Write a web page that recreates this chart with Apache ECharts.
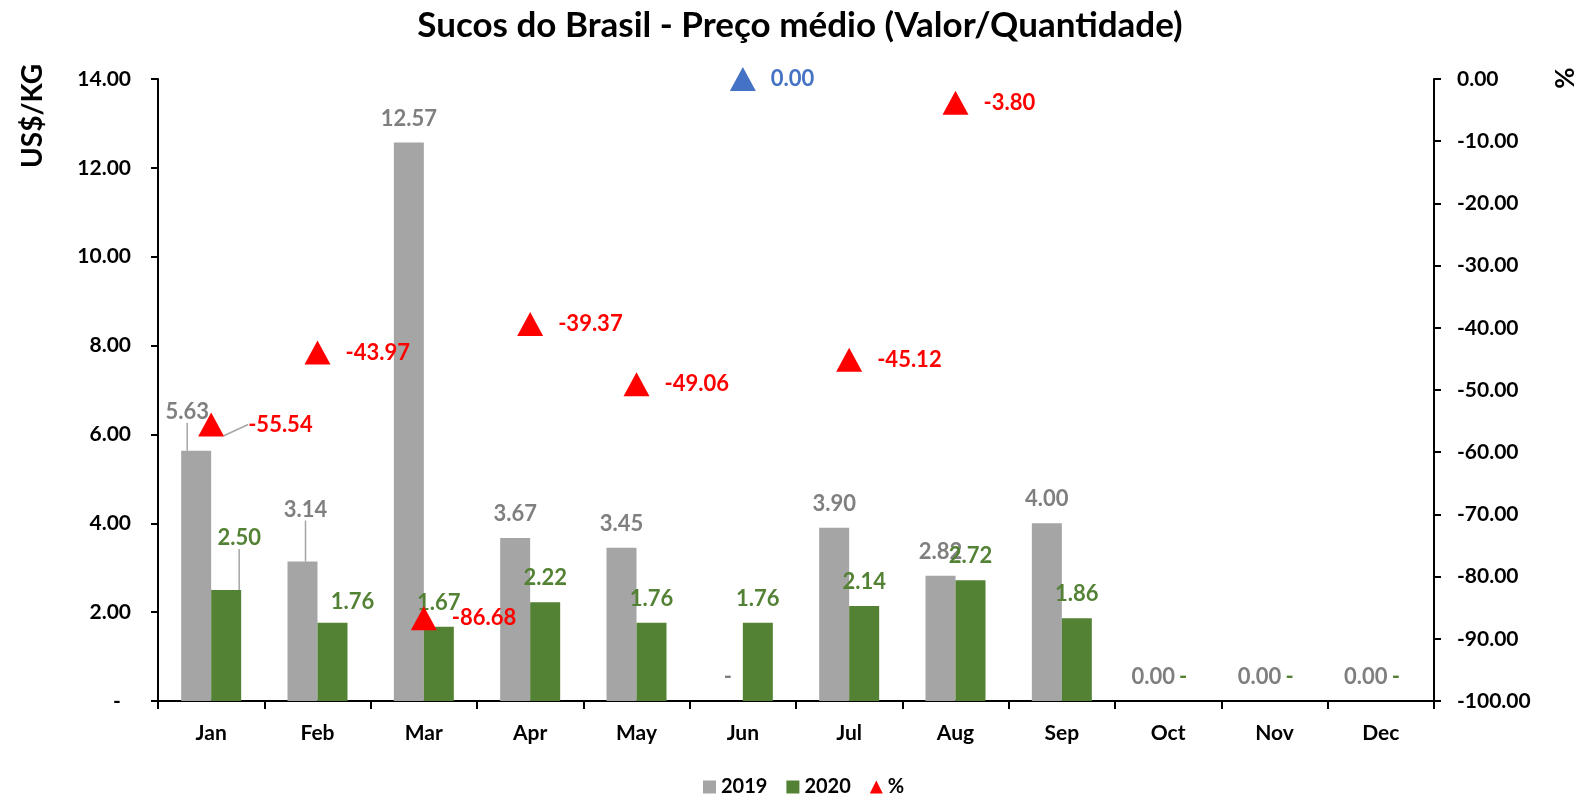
<!DOCTYPE html>
<html>
<head>
<meta charset="utf-8">
<script src="https://cdn.jsdelivr.net/npm/echarts@6/dist/echarts.min.js"></script>
<style>
html,body{margin:0;padding:0;background:#fff;}
#chart{width:1581px;height:796px;}
</style>
</head>
<body>
<div id="chart"></div>
<script>
// ---- data ----
const months = ['Jan','Feb','Mar','Apr','May','Jun','Jul','Aug','Sep','Oct','Nov','Dec'];
const values2019 = [5.63, 3.14, 12.57, 3.67, 3.45, 0, 3.90, 2.82, 4.00, 0, 0, 0];
const labels2019 = ['5.63','3.14','12.57','3.67','3.45','-','3.90','2.82','4.00','0.00','0.00','0.00'];
const values2020 = [2.50, 1.76, 1.67, 2.22, 1.76, 1.76, 2.14, 2.72, 1.86, 0, 0, 0];
const labels2020 = ['2.50','1.76','1.67','2.22','1.76','1.76','2.14','2.72','1.86','-','-','-'];
const valuesPct = [-55.54, -43.97, -86.68, -39.37, -49.06, 0.00, -45.12, -3.80, null, null, null, null];
const leftTicks = [0, 2, 4, 6, 8, 10, 12, 14];
const rightTicks = [-100, -90, -80, -70, -60, -50, -40, -30, -20, -10, 0];

// ---- style / layout config ----
const FONT = 'Lato, "Liberation Sans", sans-serif';
const FS = 21;      // axis labels
const FSD = 22;     // data labels
const C2019 = '#A5A5A5', C2020 = '#548235', CPCT = '#FF0000', CBLUE = '#4472C4';
const shift2019 = {0: [-9, -15], 1: [3, -28]};
const shift2020 = {0: [13, -28], 1: [20, 3]};
const shiftPct = {0: [9, 0]};
const leader2019 = {0: true, 1: true};
const leader2020 = {0: true};
const leaderPct = {0: true};
const pctColorOverride = {5: CBLUE};

function shiftFn(map) {
  return function (p) {
    const s = map[p.dataIndex];
    if (s) return {dx: s[0], dy: s[1]};
    return {};
  };
}

const leaderStyle = {color: '#A5A5A5', width: 1.5};

const chart = echarts.init(document.getElementById('chart'), null, {renderer: 'canvas'});

const option = {
  backgroundColor: '#fff',
  animation: false,
  textStyle: {fontFamily: FONT},
  title: {
    text: 'Sucos do Brasil - Preço médio (Valor/Quantidade)',
    left: 800, top: 8, textAlign: 'center', padding: 0,
    textStyle: {fontFamily: FONT, fontWeight: 'bold', fontSize: 35, color: '#000'}
  },
  legend: {
    left: 703, top: 777, padding: 0,
    itemWidth: 13, itemHeight: 13, itemGap: 19,
    textStyle: {fontFamily: FONT, fontWeight: 'bold', fontSize: 20, color: '#000'},
    data: [
      {name: '2019', icon: 'rect'},
      {name: '2020', icon: 'rect'},
      {name: '%', icon: 'triangle'}
    ]
  },
  grid: {left: 158, right: 147, top: 79, bottom: 95, containLabel: false},
  xAxis: {
    type: 'category',
    data: months,
    axisLine: {show: true, lineStyle: {color: '#000', width: 2}},
    axisTick: {show: true, length: 8, lineStyle: {color: '#000', width: 2}},
    axisLabel: {margin: 22, fontFamily: FONT, fontWeight: 'bold', fontSize: FS, color: '#000'},
    splitLine: {show: false}
  },
  yAxis: [
    {
      type: 'value', position: 'left',
      min: leftTicks[0], max: leftTicks[leftTicks.length - 1], interval: 2,
      axisLine: {show: true, lineStyle: {color: '#000', width: 2}},
      axisTick: {show: true, length: 7, lineStyle: {color: '#000', width: 2}},
      axisLabel: {
        margin: 27, fontFamily: FONT, fontWeight: 'bold', fontSize: FS, color: '#000',
        formatter: v => v === 0 ? '-  ' : v.toFixed(2)
      },
      splitLine: {show: false}
    },
    {
      type: 'value', position: 'right',
      min: rightTicks[0], max: rightTicks[rightTicks.length - 1], interval: 10,
      axisLine: {show: true, lineStyle: {color: '#000', width: 2}},
      axisTick: {show: true, length: 7, lineStyle: {color: '#000', width: 2}},
      axisLabel: {
        margin: 23, fontFamily: FONT, fontWeight: 'bold', fontSize: FS, color: '#000',
        formatter: v => v.toFixed(2)
      },
      splitLine: {show: false}
    }
  ],
  graphic: [
    {type: 'text', x: 33, y: 116, rotation: Math.PI / 2,
     style: {text: 'US$/KG', fontFamily: FONT, fontWeight: 'bold', fontSize: 28, fill: '#000',
             textAlign: 'center', textVerticalAlign: 'middle'}},
    {type: 'text', x: 1566, y: 78, rotation: Math.PI / 2,
     style: {text: '%', fontFamily: FONT, fontWeight: 'bold', fontSize: 26, fill: '#000',
             textAlign: 'center', textVerticalAlign: 'middle'}}
  ],
  series: [
    {
      name: '2019', type: 'bar', yAxisIndex: 0,
      barWidth: 30, barGap: '0%',
      itemStyle: {color: C2019},
      data: values2019.map((v, i) => ({value: v, labelLine: {show: !!leader2019[i], lineStyle: leaderStyle}})),
      label: {
        show: true, position: 'top', distance: 13,
        fontFamily: FONT, fontWeight: 'bold', fontSize: FSD, color: '#7F7F7F',
        formatter: p => labels2019[p.dataIndex]
      },
      labelLayout: shiftFn(shift2019),
      z: 2
    },
    {
      name: '2020', type: 'bar', yAxisIndex: 0,
      barWidth: 30, barGap: '0%',
      itemStyle: {color: C2020},
      data: values2020.map((v, i) => ({value: v, labelLine: {show: !!leader2020[i], lineStyle: leaderStyle}})),
      label: {
        show: true, position: 'top', distance: 13,
        fontFamily: FONT, fontWeight: 'bold', fontSize: FSD, color: C2020,
        formatter: p => labels2020[p.dataIndex]
      },
      labelLayout: shiftFn(shift2020),
      z: 2
    },
    {
      name: '%', type: 'scatter', yAxisIndex: 1,
      symbol: 'triangle', symbolSize: [26, 24],
      itemStyle: {color: CPCT, opacity: 1},
      data: valuesPct.map((v, i) => {
        const o = {value: v, labelLine: {show: !!leaderPct[i], lineStyle: leaderStyle}};
        if (pctColorOverride[i]) {
          o.itemStyle = {color: pctColorOverride[i], opacity: 1};
          o.label = {color: pctColorOverride[i]};
        }
        return o;
      }),
      label: {
        show: true, position: 'right', distance: 15,
        fontFamily: FONT, fontWeight: 'bold', fontSize: FSD, color: CPCT,
        formatter: p => (p.value === null ? '' : Number(p.value).toFixed(2))
      },
      labelLayout: shiftFn(shiftPct),
      z: 5
    }
  ]
};

chart.setOption(option);
</script>
</body>
</html>
